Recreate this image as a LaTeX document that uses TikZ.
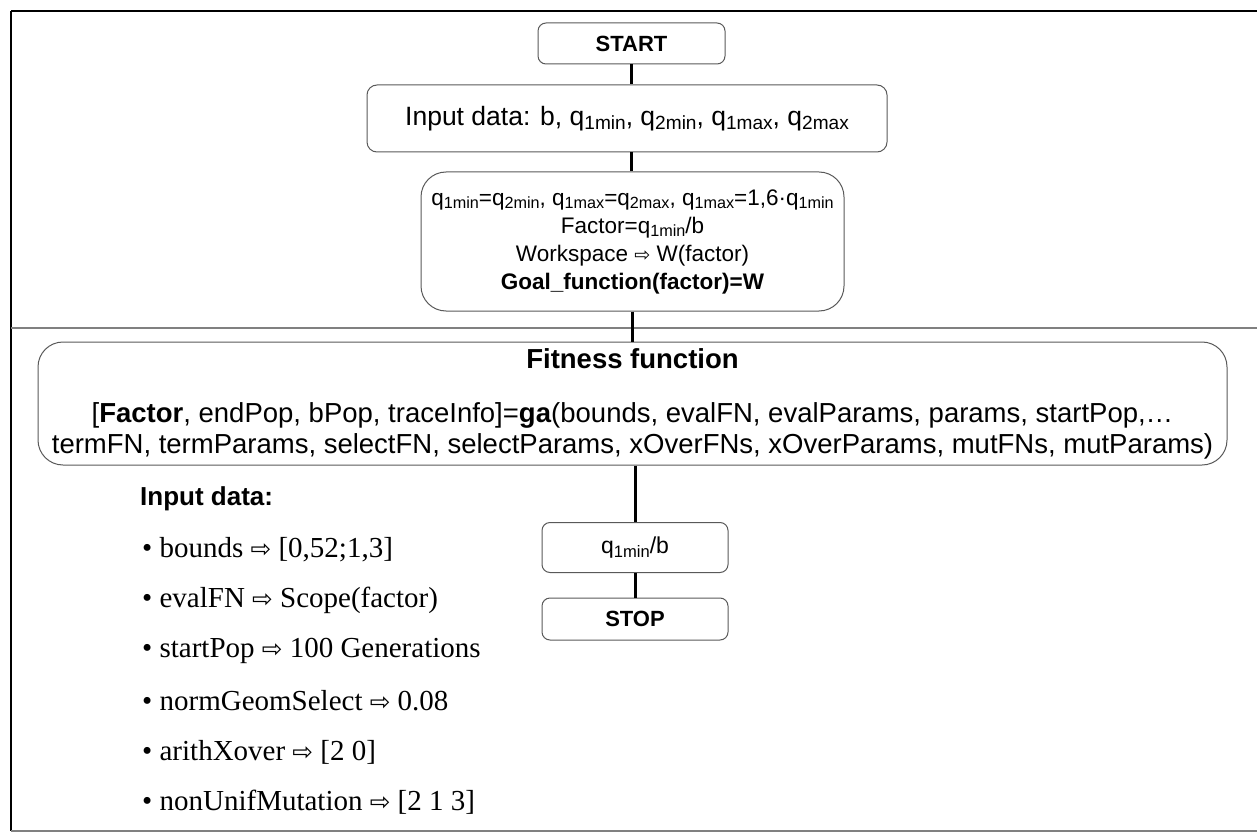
\documentclass[tikz,border=0pt]{standalone}
\usepackage{fontspec}
\usepackage{graphicx}
\setmainfont{Liberation Sans}
\newfontfamily\serifff{Liberation Serif}
\newfontfamily\symff{DejaVu Sans}
\newcommand\rarr{\scalebox{0.85}{\symff ⇨}}
\newcommand\sbs[1]{\raisebox{-0.3ex}{\scalebox{0.72}{#1}}}
\newcommand\fsz[2]{\fontsize{#1}{#2}\selectfont}
\begin{document}
\begin{tikzpicture}[x=1pt,y=-1pt,
  box/.style={draw=black!65, line width=1pt, rounded corners=8pt, align=center, inner sep=0pt},
  link/.style={line width=3pt, black},
  frameline/.style={line width=2pt, black},
  grayline/.style={line width=1.5pt, black!50},
  bullet/.style={anchor=west, inner sep=0pt, font=\serifff\fsz{29}{32}}]
\useasboundingbox (0,0) rectangle (1257,834);
% frame
\draw[frameline] (11,11) -- (1257,11);
\draw[frameline] (11,11) -- (11,831);
\draw[grayline] (11,328) -- (1257,328);
\draw[grayline] (11,831) -- (1257,831);
% nodes
\node[box, minimum width=187, minimum height=41, font=\fsz{22}{26}\bfseries] (start) at (631.5,43.5) {START};
\node[box, minimum width=520, minimum height=67, rounded corners=10pt, font=\fsz{26.5}{30}] (input) at (627,118.5)
  {Input data: b, q\sbs{1min}, q\sbs{2min}, q\sbs{1max}, q\sbs{2max}};
\node[box, minimum width=423, minimum height=139, rounded corners=25pt, font=\fsz{22.5}{28}] (calc) at (632.5,241.5)
  {q\sbs{1min}=q\sbs{2min}, q\sbs{1max}=q\sbs{2max}, q\sbs{1max}=1,6·q\sbs{1min}\\
   Factor=q\sbs{1min}/b\\
   Workspace \rarr{} W(factor)\\
   \textbf{Goal\_function(factor)=W}};
\node[box, minimum width=1189, minimum height=123, rounded corners=25pt, font=\fsz{27.5}{30.5}] (fit) at (632.5,403.5)
  {\textbf{Fitness function}\\[24pt]
   {[}\textbf{Factor}, endPop, bPop, traceInfo]=\textbf{ga}(bounds, evalFN, evalParams, params, startPop,…\\
   termFN, termParams, selectFN, selectParams, xOverFNs, xOverParams, mutFNs, mutParams)};
\node[box, minimum width=186, minimum height=50, font=\fsz{23}{27}] (res) at (635,547.5) {q\sbs{1min}/b};
\node[box, minimum width=186, minimum height=42, font=\fsz{22}{26}\bfseries] (stop) at (635,619) {STOP};
% connectors
\draw[link] (start.south) -- (start.south |- input.north);
\draw[link] (input.south -| start.south) -- (start.south |- calc.north);
\draw[link] (calc.south) -- (calc.south |- fit.north);
\draw[link] (fit.south -| res.north) -- (res.north);
\draw[link] (res.south) -- (stop.north);
% input data list
\node[anchor=west, inner sep=0pt, font=\fsz{26}{30}\bfseries] (hdr) at (140,499) {Input data:};
\node[bullet] (b1) at (142,550) {• bounds \rarr{} [0,52;1,3]};
\node[bullet] (b2) at (142,600) {• evalFN \rarr{} Scope(factor)};
\node[bullet] (b3) at (142,651) {• startPop \rarr{} 100 Generations};
\node[bullet] (b4) at (142,701) {• normGeomSelect \rarr{} 0.08};
\node[bullet] (b5) at (142,752) {• arithXover \rarr{} [2 0]};
\node[bullet] (b6) at (142,802) {• nonUnifMutation \rarr{} [2 1 3]};
\end{tikzpicture}
\end{document}
